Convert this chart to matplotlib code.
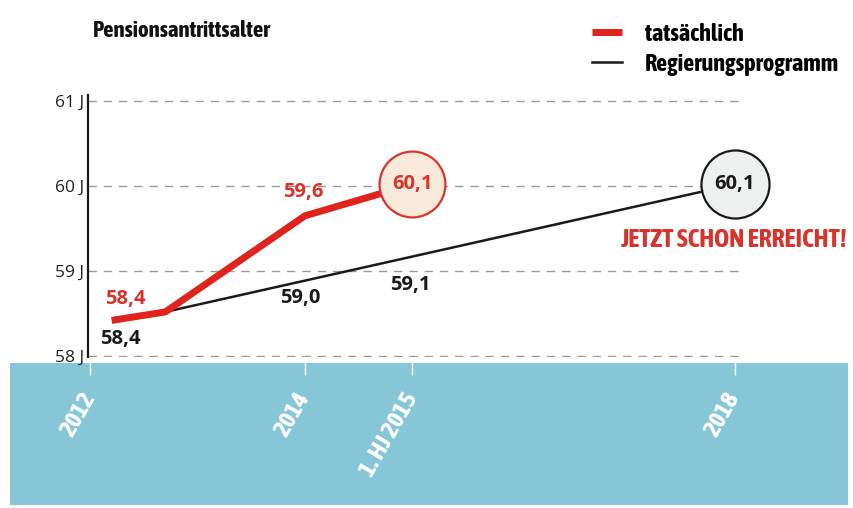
"""
Pensionsantrittsalter: tatsaechlich vs. Regierungsprogramm
"""
import matplotlib
matplotlib.use("Agg")
import matplotlib.pyplot as plt
from matplotlib import font_manager
from matplotlib.patches import Rectangle

# fonts: a condensed family if one is there, else DejaVu
names = {f.name for f in font_manager.fontManager.ttflist}
FONT = "DejaVu Sans"
for cand in ["Asap Condensed", "Barlow Semi Condensed", "Archivo Narrow"]:
    if cand in names:
        FONT = cand
        break
SCALE = 1.0 if FONT != "DejaVu Sans" else 0.8
NUMFONT = "Open Sans" if "Open Sans" in names else "DejaVu Sans"
plt.rcParams["font.family"] = [FONT, "DejaVu Sans"]

# data
tick_pos = [2012, 2014, 2015, 2018]
tick_labels = ["2012", "2014", "1. HJ 2015", "2018"]
y_ticks = [58, 59, 60, 61]
y_labels = ["58 J", "59 J", "60 J", "61 J"]

actual_x = [2012.2, 2012.7, 2014, 2015]
actual_y = [58.42, 58.52, 59.65, 60.02]
plan_x = [2012.7, 2018]
plan_y = [58.52, 60.02]

RED = "#e0231d"
RED_TXT = "#d8342c"
DARK = "#1a1a1a"
BAND = "#86c6d6"

fig = plt.figure(figsize=(8.54, 5.08), dpi=100)
fig.patch.set_facecolor("white")

# blue band behind the x labels
fig.patches.append(Rectangle((10 / 854, 3 / 508), 838 / 854, 142 / 508,
                             transform=fig.transFigure, facecolor=BAND,
                             edgecolor="none", zorder=-1))

ax = fig.add_axes([88 / 854, 151 / 508, 652 / 854, 262 / 508])
ax.set_facecolor("none")
ax.set_xlim(2011.98, 2018.05)
ax.set_ylim(57.99, 61.07)

for s in ["top", "right", "bottom"]:
    ax.spines[s].set_visible(False)
ax.spines["left"].set_linewidth(1.6)
ax.spines["left"].set_color(DARK)

ax.set_yticks(y_ticks)
ax.set_yticklabels(y_labels, fontsize=12.5, color="#222222",
                   family=[NUMFONT, "DejaVu Sans"])
ax.tick_params(axis="y", length=0, pad=3)
ax.yaxis.grid(True, color="#9a9a9a", linestyle=(0, (6, 5)), linewidth=1)
ax.set_axisbelow(True)

ax.set_xticks(tick_pos)
ax.set_xticklabels(tick_labels, rotation=60, ha="right", va="center",
                   rotation_mode="anchor", fontsize=18 * SCALE,
                   fontweight="bold", color="white")
ax.tick_params(axis="x", length=13, width=1, color="white", pad=14)

line_a, = ax.plot(actual_x, actual_y, color=RED, lw=5, solid_capstyle="butt",
                  solid_joinstyle="miter", zorder=3, label="tatsächlich")
line_p, = ax.plot(plan_x, plan_y, color=DARK, lw=1.8, zorder=2,
                  label="Regierungsprogramm")

# circles at the end points
ax.scatter([actual_x[-1]], [actual_y[-1]], s=2250, facecolor="#f8e9da",
           edgecolor=RED_TXT, linewidth=1.6, zorder=4, clip_on=False)
ax.scatter([plan_x[-1]], [plan_y[-1]], s=2400, facecolor="#eef0f0",
           edgecolor=DARK, linewidth=1.6, zorder=4, clip_on=False)

# value labels
lab = dict(fontsize=14.5, fontweight="bold", ha="center", va="center",
           family=[NUMFONT, "DejaVu Sans"], zorder=5)
ax.text(actual_x[-1], actual_y[-1], "60,1", color=RED_TXT, **lab)
ax.text(plan_x[-1], plan_y[-1], "60,1", color=DARK, **lab)
ax.text(2012.33, 58.67, "58,4", color=RED_TXT, **lab)
ax.text(2012.28, 58.2, "58,4", color=DARK, **lab)
ax.text(2013.98, 59.93, "59,6", color=RED_TXT, **lab)
ax.text(2013.96, 58.68, "59,0", color=DARK, **lab)
ax.text(2014.98, 58.84, "59,1", color=DARK, **lab)
ax.text(2019.04, 59.37, "JETZT SCHON ERREICHT!", color=RED_TXT,
        fontsize=18.5 * SCALE, fontweight="bold", ha="right", va="center")

fig.text(93 / 854, 1 - 31 / 508, "Pensionsantrittsalter",
         fontsize=16.5 * SCALE, fontweight="bold", color="#111111",
         ha="left", va="center")

ax.legend(handles=[line_a, line_p], loc="upper left", frameon=False,
          bbox_to_anchor=(582 / 854, 1 - 13 / 508),
          bbox_transform=fig.transFigure, borderaxespad=0,
          handlelength=1.25, handletextpad=0.95, labelspacing=0.28,
          prop={"weight": "bold", "size": 17.5 * SCALE})

fig.savefig("out.png", dpi=100)
plt.close(fig)
